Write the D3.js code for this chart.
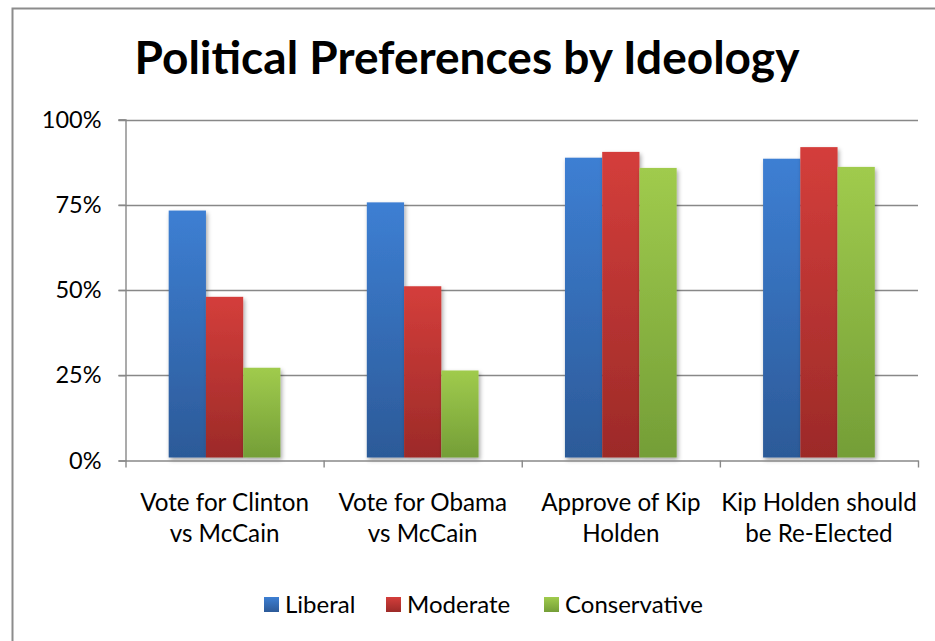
<!DOCTYPE html>
<html>
<head>
<meta charset="utf-8">
<script src="https://cdn.jsdelivr.net/npm/d3@7"></script>
<style>
  html, body { margin: 0; padding: 0; background: #fff; }
  svg { display: block; }
  text { font-family: Lato, "Open Sans", sans-serif; fill: #000; }
</style>
</head>
<body>
<svg id="chart" width="935" height="641"></svg>
<script>
const title = "Political Preferences by Ideology";
const categories = [
  ["Vote for Clinton", "vs McCain"],
  ["Vote for Obama", "vs McCain"],
  ["Approve of Kip", "Holden"],
  ["Kip Holden should", "be Re-Elected"]
];
const seriesNames = ["Liberal", "Moderate", "Conservative"];
const liberal = [0.733, 0.757, 0.888, 0.885];
const moderate = [0.48, 0.511, 0.905, 0.919];
const conservative = [0.272, 0.264, 0.858, 0.861];
const yTicks = [0, 0.25, 0.5, 0.75, 1];

const seriesValues = [liberal, moderate, conservative];
const colors = [
  { top: "#3D7FD3", bottom: "#2C5A98" },
  { top: "#D43E3B", bottom: "#9C2A28" },
  { top: "#A0CB4D", bottom: "#749E37" }
];

const svg = d3.select("#chart");
const W = 935, H = 641;

// chart border
svg.append("rect")
  .attr("x", 12.5).attr("y", 8.5)
  .attr("width", W + 20).attr("height", H + 20)
  .attr("fill", "#fff").attr("stroke", "#8c8c8c").attr("stroke-width", 2);

const defs = svg.append("defs");
colors.forEach((c, i) => {
  const g = defs.append("linearGradient").attr("id", "grad" + i)
    .attr("x1", 0).attr("y1", 0).attr("x2", 0).attr("y2", 1);
  g.append("stop").attr("offset", "0%").attr("stop-color", c.top);
  g.append("stop").attr("offset", "100%").attr("stop-color", c.bottom);
});
const f = defs.append("filter").attr("id", "shadow")
  .attr("x", "-30%").attr("y", "-10%").attr("width", "160%").attr("height", "130%");
f.append("feDropShadow").attr("dx", 1.5).attr("dy", 2.5)
  .attr("stdDeviation", 2.2).attr("flood-color", "#000").attr("flood-opacity", 0.35);

const plotLeft = 125.5, plotRight = 918, plotTop = 119.5, plotBottom = 460.5;

const y = d3.scaleLinear().domain([0, 1]).range([plotBottom, plotTop]);
const x0 = d3.scaleBand().domain(d3.range(categories.length)).range([plotLeft, plotRight]).padding(0);
const x1 = d3.scaleBand().domain(d3.range(seriesNames.length))
  .range([0, x0.bandwidth()]).paddingInner(0).paddingOuter(1.16);

// gridlines
svg.append("g").selectAll("line").data(yTicks.filter(t => t > 0)).join("line")
  .attr("x1", plotLeft - 7).attr("x2", plotRight)
  .attr("y1", d => Math.round(y(d)) + 0.5).attr("y2", d => Math.round(y(d)) + 0.5)
  .attr("stroke", "#888").attr("stroke-width", 1.4);

// y axis
const yAxis = d3.axisLeft(y).tickValues(yTicks).tickFormat(d3.format(".0%")).tickSize(7).tickPadding(17);
const ya = svg.append("g").attr("transform", `translate(${plotLeft},0)`).call(yAxis);
ya.select(".domain").attr("stroke", "#888").attr("stroke-width", 1.4);
ya.selectAll(".tick line").attr("stroke", "#888").attr("stroke-width", 1.4);
ya.selectAll(".tick text").attr("font-size", 23.5).attr("font-family", "Lato, sans-serif").attr("fill", "#000");

// bars
const groups = svg.append("g").selectAll("g").data(categories.map((c, i) => i)).join("g")
  .attr("transform", i => `translate(${x0(i)},0)`);
groups.selectAll("rect").data(i => seriesValues.map((s, k) => ({ k, v: s[i] }))).join("rect")
  .attr("x", d => x1(d.k))
  .attr("width", x1.bandwidth())
  .attr("y", d => y(d.v))
  .attr("height", d => y(0) - 3 - y(d.v))
  .attr("fill", d => `url(#grad${d.k})`)
  .attr("filter", "url(#shadow)");

// x axis
const xAxis = d3.axisBottom(d3.scaleLinear().domain([0, categories.length]).range([plotLeft, plotRight]))
  .tickValues(d3.range(categories.length + 1)).tickFormat("").tickSize(7).tickSizeOuter(0);
const xa = svg.append("g").attr("transform", `translate(0,${plotBottom})`).call(xAxis);
xa.select(".domain").attr("stroke", "#888").attr("stroke-width", 1.4);
xa.selectAll(".tick line").attr("stroke", "#888").attr("stroke-width", 1.4);

// category labels
const labels = svg.append("g").selectAll("text").data(categories).join("text")
  .attr("text-anchor", "middle")
  .attr("font-size", 24.2)
  .attr("x", (d, i) => x0(i) + x0.bandwidth() / 2)
  .attr("y", 511);
labels.selectAll("tspan").data(d => d).join("tspan")
  .attr("x", function () { return d3.select(this.parentNode).attr("x"); })
  .attr("dy", (d, j) => j === 0 ? 0 : 31)
  .text(d => d);

// title
const t = svg.append("text").attr("x", 467).attr("y", 74).attr("text-anchor", "middle")
  .attr("font-weight", "bold").attr("font-size", 40).text(title);
const tw = t.node().getComputedTextLength();
t.attr("font-size", 40 * 665 / tw);

// legend
const legendX = [264, 386, 544];
const lg = svg.append("g").selectAll("g").data(seriesNames).join("g")
  .attr("transform", (d, i) => `translate(${legendX[i]},597)`);
lg.append("rect").attr("width", 15).attr("height", 15).attr("fill", (d, i) => `url(#grad${i})`);
lg.append("text").attr("x", 21).attr("y", 15.5).attr("font-size", 24).text(d => d);
</script>
</body>
</html>
